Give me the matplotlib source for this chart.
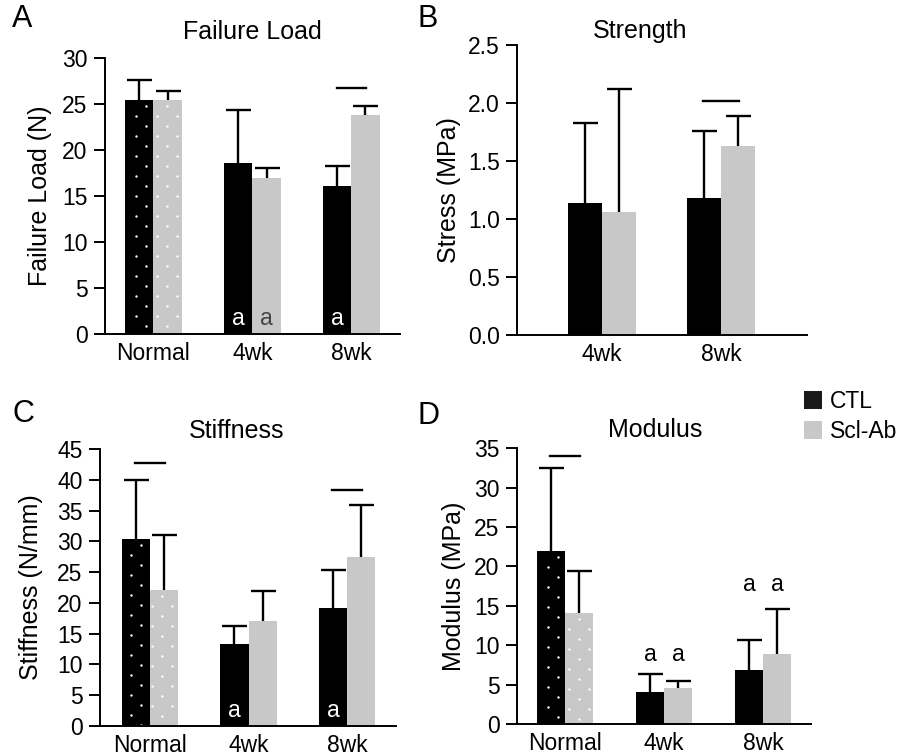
import numpy as np
import matplotlib
matplotlib.use("Agg")
import matplotlib.pyplot as plt
from matplotlib.patches import Patch

plt.rcParams['font.family'] = ['Liberation Sans', 'DejaVu Sans']

# Datos

grupos3 = ['Normal', '4wk', '8wk']
grupos2 = ['4wk', '8wk']

carga_ctl = [25.4, 18.6, 16.1]
carga_ctl_sd = [2.2, 5.7, 2.2]
carga_scl = [25.4, 17.0, 23.8]
carga_scl_sd = [1.0, 1.0, 1.0]

esfuerzo_ctl = [1.14, 1.18]
esfuerzo_ctl_sd = [0.69, 0.58]
esfuerzo_scl = [1.06, 1.63]
esfuerzo_scl_sd = [1.06, 0.26]

rigidez_ctl = [30.4, 13.3, 19.2]
rigidez_ctl_sd = [9.6, 2.9, 6.2]
rigidez_scl = [22.1, 17.1, 27.4]
rigidez_scl_sd = [9.0, 4.9, 8.5]

modulo_ctl = [21.9, 4.0, 6.9]
modulo_ctl_sd = [10.6, 2.3, 3.8]
modulo_scl = [14.1, 4.6, 8.9]
modulo_scl_sd = [5.3, 0.9, 5.7]

# lineas de significancia: (indice de grupo, altura)
sig_carga = [(2, 26.7)]
sig_esfuerzo = [(1, 2.02)]
sig_rigidez = [(0, 42.7), (2, 38.4)]
sig_modulo = [(0, 34.0)]

# letras 'a': (indice de grupo, serie 0=CTL 1=Scl-Ab, altura)
letras_carga = [(1, 0, 0.4), (1, 1, 0.4), (2, 0, 0.4)]
letras_rigidez = [(1, 0, 0.6), (2, 0, 0.6)]
letras_modulo = [(1, 0, 7.3), (1, 1, 7.3), (2, 0, 16.2), (2, 1, 16.2)]

negro = '#000000'
gris = '#c8c8c8'
ancho = 0.285
fs_tick = 16.5
fs_label = 18

fig = plt.figure(figsize=(8.99, 7.56), dpi=100)


def barras_error(ax, x, vals, sd):
    _, caps, _ = ax.errorbar(x, vals, yerr=[np.zeros(len(x)), sd], fmt='none',
                             ecolor=negro, elinewidth=1.7, capsize=9, capthick=1.7,
                             zorder=3)
    caps[0].set_visible(False)


def panel(pos, grupos, ctl, ctl_sd, scl, scl_sd, ymax, paso, titulo, ylabel,
          xlim, sig, letras, fmt, punteado, letras_dentro, tit_x, tit_pad, lab_pad):
    ax = fig.add_axes(pos)
    x = np.arange(len(grupos))
    ax.bar(x - ancho / 2, ctl, ancho, color=negro, zorder=2)
    ax.bar(x + ancho / 2, scl, ancho, color=gris, zorder=2)
    barras_error(ax, x - ancho / 2, ctl, ctl_sd)
    barras_error(ax, x + ancho / 2, scl, scl_sd)
    ax.set_xlim(*xlim)
    ax.set_ylim(0, ymax)
    ticks = np.arange(0, ymax + paso / 2, paso)
    ax.set_yticks(ticks)
    ax.set_yticklabels([fmt.format(v) for v in ticks])
    ax.set_xticks(x)
    ax.set_xticklabels(grupos)
    ax.tick_params(axis='x', length=0, labelsize=fs_tick, pad=6)
    ax.tick_params(axis='y', length=8, width=1.4, labelsize=fs_tick, pad=4.5)
    for s in ['top', 'right']:
        ax.spines[s].set_visible(False)
    for s in ['left', 'bottom']:
        ax.spines[s].set_linewidth(1.4)
    ax.set_title(titulo, fontsize=fs_label, x=tit_x, pad=tit_pad)
    ax.set_ylabel(ylabel, fontsize=fs_label, labelpad=lab_pad)

    # puntos blancos en las barras del grupo Normal
    if punteado:
        alto_px = pos[3] * 756
        ancho_px = pos[2] * 899
        dy = 10 / alto_px * ymax
        dx = 20.7 / ancho_px * (xlim[1] - xlim[0])
        for serie, vals in [(-1, ctl), (1, scl)]:
            x0 = serie * ancho / 2 - ancho / 2
            x1 = x0 + ancho
            pts_x, pts_y = [], []
            fila = 0
            y = vals[0] - dy * 0.6
            while y > 0:
                desf = 0 if fila % 2 == 0 else dx / 2
                xs = np.arange(xlim[0] + desf, xlim[1], dx)
                xs = xs[(xs > x0 + 0.01) & (xs < x1 - 0.01)]
                pts_x.extend(xs)
                pts_y.extend([y] * len(xs))
                y -= dy
                fila += 1
            ax.scatter(pts_x, pts_y, s=3, color='white', linewidths=0, zorder=2.5)

    for g, h in sig:
        ax.plot([g - 0.15, g + 0.15], [h, h], color=negro, lw=1.7, zorder=3)

    for g, serie, h in letras:
        xx = g - ancho / 2 if serie == 0 else g + ancho / 2
        if letras_dentro:
            col = 'white' if serie == 0 else '#444444'
        else:
            col = negro
        ax.text(xx, h, 'a', ha='center', va='bottom', fontsize=16.5, color=col, zorder=4)
    return ax


panel([0.1168, 0.5582, 0.328, 0.365], grupos3, carga_ctl, carga_ctl_sd, carga_scl,
      carga_scl_sd, 30, 5, 'Failure Load', 'Failure Load (N)', (-0.49, 2.49),
      sig_carga, letras_carga, '{:.0f}', True, True, 0.5, 13.5, 7)
panel([0.5751, 0.5569, 0.3226, 0.3836], grupos2, esfuerzo_ctl, esfuerzo_ctl_sd,
      esfuerzo_scl, esfuerzo_scl_sd, 2.5, 0.5, 'Strength', 'Stress (MPa)',
      (-0.714, 1.723), sig_esfuerzo, [], '{:.1f}', False, True, 0.424, 5, 5)
panel([0.1112, 0.0397, 0.3293, 0.3664], grupos3, rigidez_ctl, rigidez_ctl_sd,
      rigidez_scl, rigidez_scl_sd, 45, 5, 'Stiffness', 'Stiffness (N/mm)',
      (-0.508, 2.497), sig_rigidez, letras_rigidez, '{:.0f}', True, True, 0.463, 8, 10)
panel([0.5751, 0.0423, 0.327, 0.365], grupos3, modulo_ctl, modulo_ctl_sd,
      modulo_scl, modulo_scl_sd, 35, 5, 'Modulus', 'Modulus (MPa)',
      (-0.485, 2.485), sig_modulo, letras_modulo, '{:.0f}', True, False, 0.469, 8, 6)

# letras de panel
for letra, (px, py) in zip(['A', 'B', 'C', 'D'],
                           [(12, 4), (417, 4), (12, 399), (417, 401)]):
    fig.text(px / 899, 1 - py / 756, letra, fontsize=22, va='top', ha='left')

# leyenda
handles = [Patch(facecolor='#1a1a1a', label='CTL'),
           Patch(facecolor=gris, label='Scl-Ab')]
fig.legend(handles=handles, loc='upper left', bbox_to_anchor=(804 / 899, 1 - 390 / 756),
           frameon=False, fontsize=fs_tick, handlelength=0.8, handleheight=0.8,
           handletextpad=0.35, labelspacing=0.3, borderpad=0, borderaxespad=0)

fig.savefig('out.png', dpi=100)
